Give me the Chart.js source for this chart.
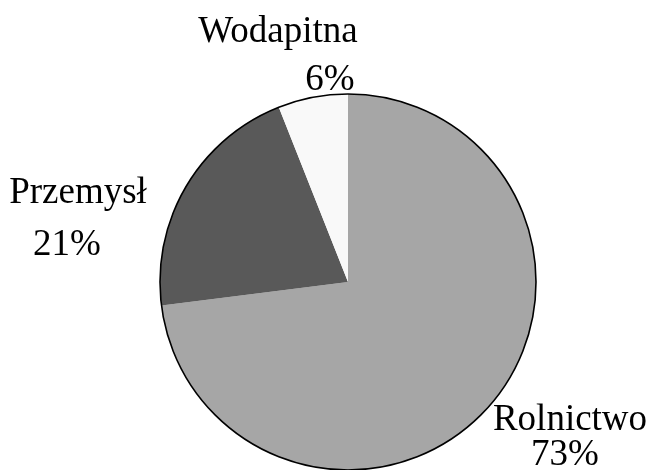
<!DOCTYPE html>
<html>
<head>
<meta charset="utf-8">
<script src="https://cdn.jsdelivr.net/npm/chart.js@4"></script>
<style>
  html, body { margin: 0; padding: 0; background: #fff; }
  #wrap { width: 651px; height: 470px; }
</style>
</head>
<body>
<div id="wrap"><canvas id="pieChart"></canvas></div>
<script>
// data
const categories = ["Rolnictwo", "Przemysł", "Wodapitna"];
const shares = [73, 21, 6];
const sliceColors = ["#a6a6a6", "#595959", "#f9f9f9"];

// where each label sits, relative to the pie centre (name line, percent line)
const labelOffsets = [
  { name: [222, 148], pct: [217, 183] },
  { name: [-270, -79], pct: [-281, -27] },
  { name: [-70, -240], pct: [-18, -192] }
];

const ctx = document.getElementById("pieChart").getContext("2d");

// Draw the outer rim and the slice labels
const rimAndLabels = {
  id: "rimAndLabels",
  afterDatasetsDraw(chart) {
    const c = chart.ctx;
    const arcs = chart.getDatasetMeta(0).data;
    if (!arcs.length) return;
    const cx = arcs[0].x, cy = arcs[0].y, r = arcs[0].outerRadius;

    c.save();
    c.beginPath();
    c.arc(cx, cy, r, 0, Math.PI * 2);
    c.lineWidth = 1.6;
    c.strokeStyle = "#000";
    c.stroke();

    c.fillStyle = "#000";
    c.font = "37px 'Liberation Serif', 'Times New Roman', serif";
    c.textAlign = "center";
    c.textBaseline = "alphabetic";
    categories.forEach((name, i) => {
      const off = labelOffsets[i];
      c.fillText(name, cx + off.name[0], cy + off.name[1]);
      c.fillText(shares[i] + "%", cx + off.pct[0], cy + off.pct[1]);
    });
    c.restore();
  }
};

new Chart(ctx, {
  type: "pie",
  data: {
    labels: categories,
    datasets: [{
      data: shares,
      backgroundColor: sliceColors,
      borderWidth: 0
    }]
  },
  options: {
    responsive: true,
    maintainAspectRatio: false,
    animation: false,
    layout: { padding: { top: 94, bottom: 0, left: 160, right: 115 } },
    plugins: {
      legend: { display: false },
      tooltip: { enabled: false }
    }
  },
  plugins: [rimAndLabels]
});
</script>
</body>
</html>
